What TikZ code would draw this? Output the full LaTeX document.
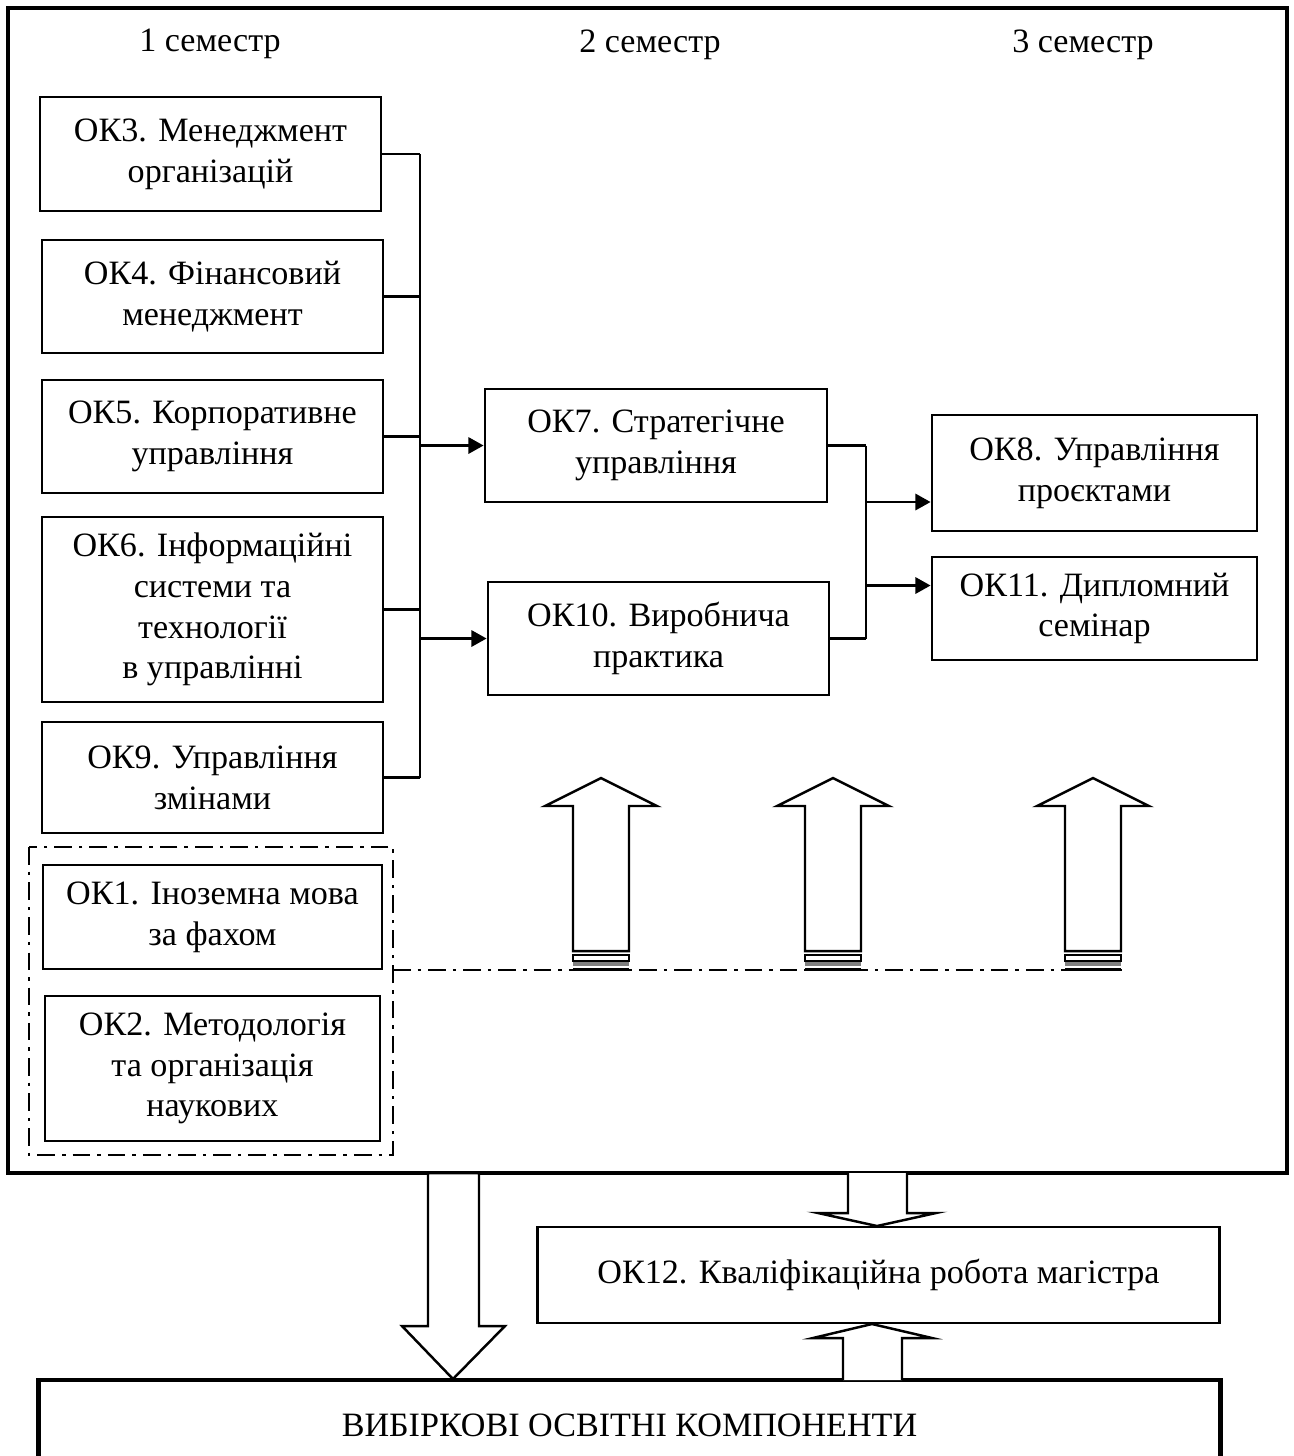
\documentclass[tikz,border=0pt]{standalone}
\usepackage{fontspec}
\setmainfont{Liberation Serif}
\usetikzlibrary{arrows.meta,calc,positioning}

\tikzset{
	okbox/.style={rectangle,draw,line width=0.75pt,align=center,inner sep=0pt},
	bus/.style={line width=0.7pt},
	blockarr/.style={line width=0.7pt,fill=white},
	dashdot/.style={line width=0.6pt,dash pattern=on 5pt off 2pt on 1pt off 2pt}
}

\begin{document}
\begin{tikzpicture}[x=0.01cm,y=-0.01cm,font=\fontsize{9.7}{11.6}\selectfont,>={Triangle[length=4.3pt,width=4.6pt]}]
		\useasboundingbox (0,0) rectangle (1294,1456);
		\draw[line width=1pt] (8,8) rectangle (1287,1173);

		% semesters
		\node (sem1) at (210,44) {1 семестр};
		\node (sem2) at (650,45) {2 семестр};
		\node (sem3) at (1083,45) {3 семестр};

		% 1 semester
		\node[okbox,minimum width=3.41cm,minimum height=1.14cm] (ok3) at (210.5,154) {ОК3. Менеджмент\\організацій};
		\node[okbox,minimum width=3.41cm,minimum height=1.13cm] (ok4) at (212.5,296.5) {ОК4. Фінансовий\\менеджмент};
		\node[okbox,minimum width=3.41cm,minimum height=1.13cm] (ok5) at (212.5,436.5) {ОК5. Корпоративне\\управління};
		\node[okbox,minimum width=3.41cm,minimum height=1.85cm] (ok6) at (212.5,609.5) {ОК6. Інформаційні\\системи та\\технології\\в управлінні};
		\node[okbox,minimum width=3.41cm,minimum height=1.11cm] (ok9) at (212.5,777.5) {ОК9. Управління\\змінами};
		\node[okbox,minimum width=3.39cm,minimum height=1.04cm] (ok1) at (212.5,917) {ОК1. Іноземна мова\\за фахом};
		\node[okbox,minimum width=3.35cm,minimum height=1.45cm] (ok2) at (212.5,1068.5) {ОК2. Методологія\\та організація\\наукових};
		\draw[dashdot] (29,847) rectangle (393,1155);

		% 2 semester
		\node[okbox,minimum width=3.42cm,minimum height=1.13cm] (ok7) at (656,445.5) {ОК7. Стратегічне\\управління};
		\node[okbox,minimum width=3.41cm,minimum height=1.13cm] (ok10) at (658.5,638.5) {ОК10. Виробнича\\практика};

		% 3 semester
		\node[okbox,minimum width=3.25cm,minimum height=1.16cm] (ok8) at (1094.5,473) {ОК8. Управління\\проєктами};
		\node[okbox,minimum width=3.25cm,minimum height=1.03cm] (ok11) at (1094.5,608.5) {ОК11. Дипломний\\семінар};

		% left bus
		\coordinate (busL) at (420,0);
		\foreach \n in {ok3,ok4,ok5,ok6,ok9}
			\draw[bus] (\n.east) -- (\n.east -| busL);
		\draw[bus] (ok3.east -| busL) -- (ok9.east -| busL);
		\draw[bus,->] (ok7.west -| busL) -- (ok7.west);
		\draw[bus,->] (ok10.west -| busL) -- (ok10.west);

		% right bus
		\coordinate (busR) at (866,0);
		\draw[bus] (ok7.east) -- (ok7.east -| busR);
		\draw[bus] (ok10.east) -- (ok10.east -| busR);
		\draw[bus] (ok7.east -| busR) -- (ok10.east -| busR);
		\coordinate (in8) at ($(ok8.west)+(0,29)$);
		\coordinate (in11) at ($(ok11.west)+(0,-23)$);
		\draw[bus,->] (in8 -| busR) -- (in8);
		\draw[bus,->] (in11 -| busR) -- (in11);

		% big arrows
		\draw[dashdot] (393,970) -- (1122,970);
		\foreach \cx in {601,833,1093}{
			\draw[blockarr] (\cx-28,951) -- (\cx-28,806) -- (\cx-56,806) -- (\cx,778) -- (\cx+56,806) -- (\cx+28,806) -- (\cx+28,951) -- cycle;
			\draw[blockarr] (\cx-28,955) rectangle (\cx+28,961);
			\fill[gray] (\cx-28,962) rectangle (\cx+28,966);
			\fill (\cx-28,968) rectangle (\cx+28,971);
		}

		% bottom part
		\node[okbox,minimum width=6.81cm,minimum height=0.96cm] (ok12) at (878.5,1275) {ОК12. Кваліфікаційна робота магістра};
		\node[okbox,line width=1.3pt,minimum width=11.81cm,minimum height=0.9cm] (vk) at (629.5,1425) {ВИБІРКОВІ ОСВІТНІ КОМПОНЕНТИ};

		\draw[blockarr] (428,1173) -- (428,1326) -- (402,1326) -- (453,1379) -- (505,1326) -- (479,1326) -- (479,1173) -- cycle;
		\draw[blockarr] (848,1173) -- (848,1213) -- (818,1213) -- (877,1226) -- (936,1213) -- (907,1213) -- (907,1173);
		\draw[blockarr] (843,1380) -- (843,1338) -- (813,1338) -- (872,1324) -- (932,1338) -- (902,1338) -- (902,1380);
\end{tikzpicture}
\end{document}
